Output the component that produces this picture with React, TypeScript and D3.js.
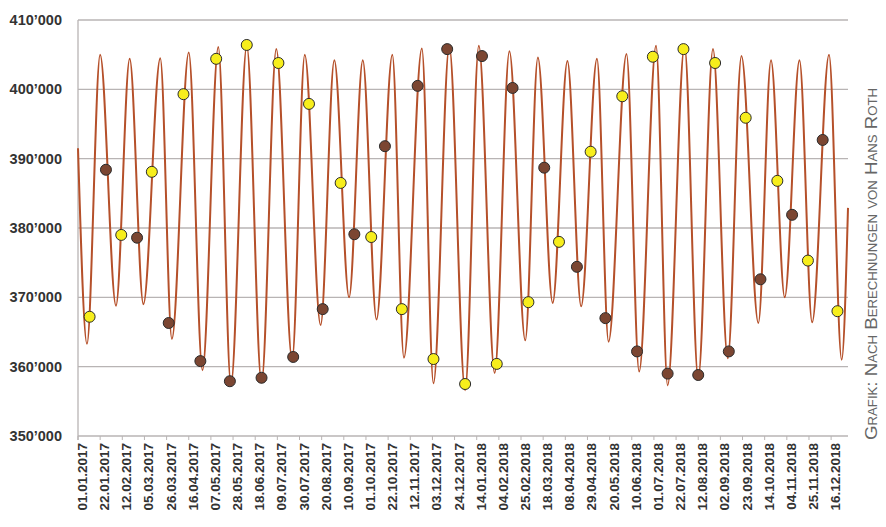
import * as d3 from 'd3';

// days since 01.01.2017, distance in km
const extremeDays = [0, 8.5, 21, 36, 49, 62, 78, 89, 105, 118, 133, 145, 160, 174, 188, 203, 215, 230, 243, 257, 270, 283, 298, 309, 326, 337, 352, 367, 380, 395, 409, 424, 436, 450, 464, 477, 492, 503, 520, 532, 548, 559, 575, 588, 602, 616, 629, 645, 657, 670, 684, 696, 712, 724, 730];
const extremeKm = [391500, 363300, 405000, 368800, 404400, 369000, 404500, 364000, 405300, 359500, 406100, 357400, 406300, 357700, 405800, 361000, 405000, 366000, 404200, 370000, 404200, 366800, 405000, 361300, 405900, 357600, 406200, 356600, 406300, 359100, 405500, 363800, 404600, 369200, 404100, 368700, 404400, 363600, 405100, 359300, 406300, 357300, 406300, 358300, 405800, 361200, 404800, 366300, 404200, 370000, 404200, 366400, 405000, 361000, 382900];

const fullDays = [11, 41, 70, 100, 131, 160, 190, 219, 249, 278, 307, 337, 367, 397, 427, 456, 486, 516, 545, 574, 604, 633, 663, 692, 720];
const fullKm = [367200, 379000, 388100, 399300, 404400, 406400, 403800, 397900, 386500, 378700, 368300, 361100, 357500, 360400, 369300, 378000, 391000, 399000, 404700, 405800, 403800, 395900, 386800, 375300, 368000];

const newDays = [26.5, 56, 86, 116, 144, 174, 204, 232, 262, 291, 322, 350, 383, 412, 442, 473, 500, 530, 559, 588, 617, 647, 677, 706];
const newKm = [388400, 378600, 366300, 360800, 357900, 358400, 361400, 368300, 379100, 391800, 400500, 405800, 404800, 400200, 388700, 374400, 367000, 362200, 359000, 358800, 362200, 372600, 381900, 392700];

const yTicks = [350000, 360000, 370000, 380000, 390000, 400000, 410000];
const xTickLabels = ['01.01.2017', '22.01.2017', '12.02.2017', '05.03.2017', '26.03.2017', '16.04.2017', '07.05.2017', '28.05.2017', '18.06.2017', '09.07.2017', '30.07.2017', '20.08.2017', '10.09.2017', '01.10.2017', '22.10.2017', '12.11.2017', '03.12.2017', '24.12.2017', '14.01.2018', '04.02.2018', '25.02.2018', '18.03.2018', '08.04.2018', '29.04.2018', '20.05.2018', '10.06.2018', '01.07.2018', '22.07.2018', '12.08.2018', '02.09.2018', '23.09.2018', '14.10.2018', '04.11.2018', '25.11.2018', '16.12.2018'];

export default function App() {
  const left = 78, right = 848, top = 20, bottom = 436;
  const x = d3.scaleLinear().domain([0, 730]).range([left, right]);
  const y = d3.scaleLinear().domain([350000, 410000]).range([bottom, top]);
  const fmt = (v: number) => `${Math.round(v / 1000)}’000`;

  const line = d3.line<number>()
    .x((_, i) => x(extremeDays[i]))
    .y(d => y(d))
    .curve(d3.curveMonotoneX);

  return (
    <svg width={886} height={527} style={{ position: 'absolute', left: 0, top: 0, fontFamily: 'Liberation Sans, Arial, sans-serif' }}>
      {/* grid */}
      {yTicks.map(t => (
        <g key={t}>
          <line x1={left} x2={right} y1={y(t)} y2={y(t)} stroke="#b8b4b4" strokeWidth={1.3} />
          <text x={62} y={y(t) + 5} textAnchor="end" fontSize={14.5} fontWeight="bold" fill="#333">{fmt(t)}</text>
        </g>
      ))}
      <line x1={left} x2={left} y1={top} y2={bottom + 4} stroke="#b8b4b4" strokeWidth={1.3} />
      {xTickLabels.map((lab, i) => {
        const tx = x(i * 21);
        return (
          <g key={lab}>
            <line x1={tx} x2={tx} y1={bottom} y2={bottom + 4} stroke="#b8b4b4" />
            <text transform={`translate(${tx + 9},${443}) rotate(-90)`} textAnchor="end" fontSize={13.5} fontWeight="bold" fill="#333">{lab}</text>
          </g>
        );
      })}
      <path d={line(extremeKm) || ''} fill="none" stroke="#b5502a" strokeWidth={2} />
      {newDays.map((d, i) => (
        <circle key={'n' + i} cx={x(d)} cy={y(newKm[i])} r={5.5} fill="#7b4632" stroke="#2b2b2b" strokeWidth={1} />
      ))}
      {fullDays.map((d, i) => (
        <circle key={'f' + i} cx={x(d)} cy={y(fullKm[i])} r={5.5} fill="#f7ee1c" stroke="#2b2b2b" strokeWidth={1} />
      ))}
      <text transform="translate(877,440) rotate(-90)" fontSize={17} fill="#666" style={{ fontVariant: 'small-caps' }} textLength={352} lengthAdjust="spacingAndGlyphs">Grafik: Nach Berechnungen von Hans Roth</text>
    </svg>
  );
}
